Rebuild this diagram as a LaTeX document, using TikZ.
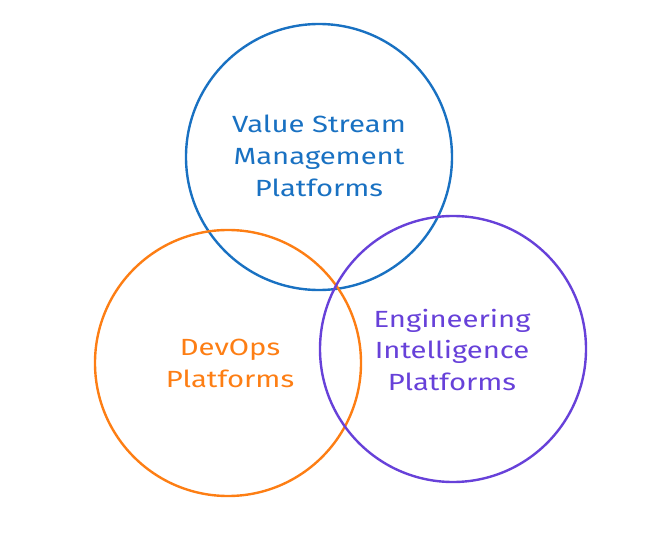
\documentclass[tikz,border=0pt]{standalone}
\usepackage{fontspec}
\setmainfont{Fira Sans}[FakeStretch=1.25]
\usetikzlibrary{positioning}
\definecolor{vsblue}{HTML}{1971C2}
\definecolor{doorange}{HTML}{FD7E14}
\definecolor{eipurple}{HTML}{6741D9}
\tikzset{
	ring/.style={circle,draw,line width=2.4bp,minimum size=266bp,inner sep=0},
	ringlabel/.style={font=\fontsize{23.5}{32}\selectfont, align=center}
}
\begin{document}
\begin{tikzpicture}[x=1bp,y=-1bp]
		\useasboundingbox (0,0) rectangle (663,558);
		% the three platform circles
		\node[ring,vsblue] (VSM) at (319,157) {};
		\node[ring,doorange] (DO) at (228,363) {};
		\node[ring,eipurple] (EI) at (453,349) {};
		
		\node[ringlabel,text=vsblue] (VSMtext) at (319,156) {Value Stream\\Management\\Platforms};
		\node[ringlabel,text=doorange] (DOtext) at (230,363) {DevOps\\Platforms};
		\node[ringlabel,text=eipurple] (EItext) at (452,350) {Engineering\\Intelligence\\Platforms};
\end{tikzpicture}
\end{document}
